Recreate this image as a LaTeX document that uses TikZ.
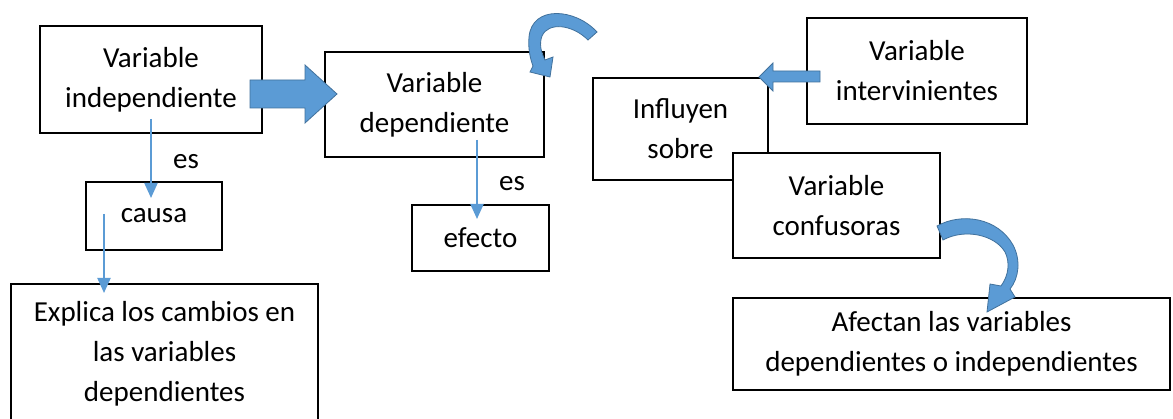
\documentclass[tikz,border=0pt]{standalone}
\usepackage{fontspec}
\setmainfont{Carlito}
\usetikzlibrary{arrows.meta}
\definecolor{oblue}{RGB}{91,155,213}
\definecolor{oblueD}{RGB}{65,113,156}
\begin{document}
\begin{tikzpicture}[x=1pt,y=-1pt,
 box/.style={draw=black,line width=1.3pt,fill=white,align=center,inner sep=0pt,font=\fontsize{29}{40}\selectfont},
 conn/.style={draw=oblue,line width=2pt,-{Triangle[width=13pt,length=15pt]}},
 lbl/.style={font=\fontsize{29}{40}\selectfont,inner sep=0pt},
 blockarrow/.style={fill=oblue,draw=oblueD,line width=0.8pt}]
\useasboundingbox[fill=white] (0,0) rectangle (1173,419);
% boxes
\node[box,minimum width=222pt,minimum height=107pt] (A) at (151,79.5) {Variable\\independiente};
\node[box,minimum width=219pt,minimum height=105pt] (B) at (434.5,104.5) {Variable\\dependiente};
\node[box,minimum width=136pt,minimum height=68pt] (causa) at (154,216) {causa};
\node[box,minimum width=307pt,minimum height=140pt] (explica) at (164.5,354) {Explica los cambios en\\las variables\\dependientes};
\node[box,minimum width=137pt,minimum height=66pt] (efecto) at (480.5,238) {efecto};
\node[box,minimum width=175pt,minimum height=102pt] (influyen) at (680.5,129) {Influyen\\sobre};
\node[box,minimum width=220pt,minimum height=106pt] (interv) at (917,71) {Variable\\intervinientes};
\node[box,minimum width=207pt,minimum height=105pt] (confus) at (836.5,205.5) {Variable\\confusoras};
\node[box,minimum width=437pt,minimum height=92pt] (afectan) at (951.5,344) {Afectan las variables\\dependientes o independientes};
% labels
\node[lbl] (es1) at (186,162) {es};
\node[lbl] (es2) at (512,184) {es};
% thin connectors
\coordinate (a1) at (151,119);
\coordinate (a2) at (151,198);
\coordinate (c1) at (104,214);
\coordinate (c2) at (104,293);
\coordinate (b1) at (477,140);
\coordinate (b2) at (477,219);
\draw[conn] (a1) -- (a2);
\draw[conn] (c1) -- (c2);
\draw[conn] (b1) -- (b2);
% big block arrow A -> B
\filldraw[blockarrow] (250,80) -- (305,80) -- (305,65) -- (337,94) -- (305,123) -- (305,108) -- (250,108) -- cycle;
% block arrow interv -> influyen
\filldraw[blockarrow] (820,71) -- (773,71) -- (773,63) -- (759,77) -- (773,91) -- (773,82) -- (820,82) -- cycle;
% curved arrow near B
\filldraw[blockarrow] (597,32) .. controls (575,8) and (532,5) .. (529,37)
  .. controls (528,48) and (530,58) .. (533,66) -- (530,72) -- (550,77) -- (553,57) -- (545,60)
  .. controls (541,52) and (539,44) .. (542,36) .. controls (548,22) and (572,24) .. (588,40) -- cycle;
% curved arrow near confusoras
\filldraw[blockarrow] (937,226) .. controls (962,212) and (998,218) .. (1013,245)
  .. controls (1021,260) and (1019,278) .. (1010,289) -- (1015,297) -- (987,312) -- (990,284) -- (1001,286)
  .. controls (1009,275) and (1010,262) .. (1005,252) .. controls (995,235) and (965,228) .. (943,240) -- cycle;
\end{tikzpicture}
\end{document}
